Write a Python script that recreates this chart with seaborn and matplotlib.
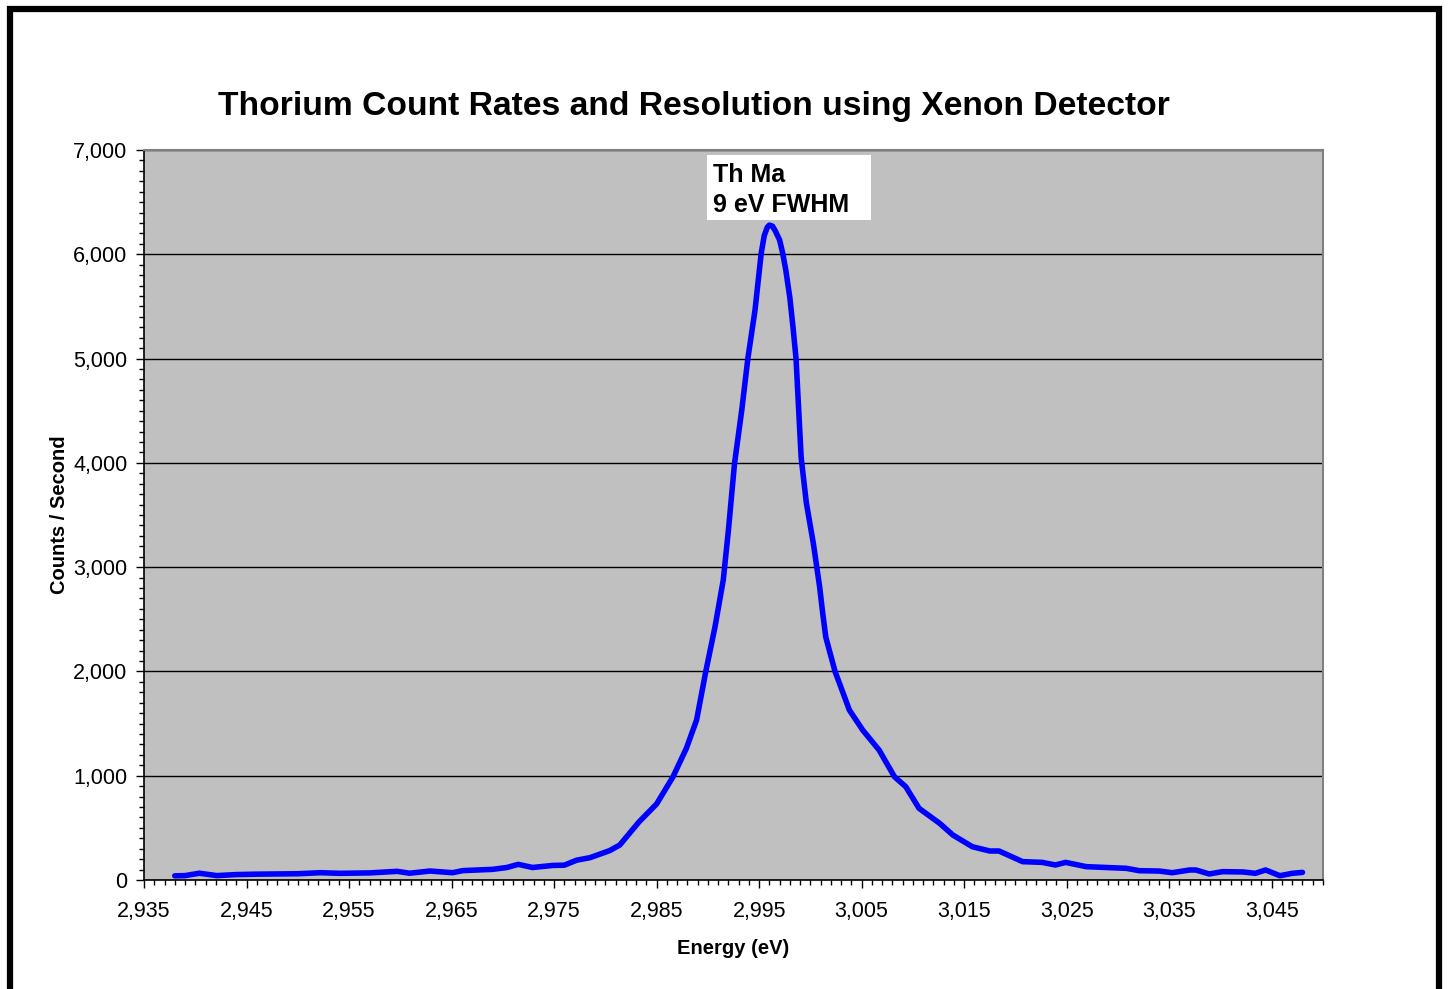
import matplotlib
matplotlib.use("Agg")
import matplotlib.pyplot as plt
from matplotlib.patches import Rectangle
from matplotlib.ticker import MultipleLocator, StrMethodFormatter
import seaborn as sb
import pandas as pd

# Values
energy = [2938, 2939, 2940.4, 2942.1, 2944, 2946, 2948, 2950, 2952.2, 2954.1,
          2957, 2959.7, 2960.9, 2962.9, 2965.1, 2966.1, 2969, 2970.4, 2971.5, 2972.9,
          2974.9, 2976, 2977.2, 2978.5, 2980.4, 2981.4, 2983.3, 2985.0, 2986.6, 2987.9,
          2988.9, 2989.8, 2990.7, 2991.5, 2992.0, 2992.6, 2993.3, 2993.9, 2994.6, 2995.2,
          2995.5, 2995.8, 2996.0, 2996.3, 2996.6, 2997.0, 2997.3, 2997.6, 2998.0, 2998.3,
          2998.6, 2999.1, 2999.6, 3000.3, 3000.9, 3001.2, 3001.5, 3002.4, 3003.2, 3003.8,
          3005.1, 3006.7, 3008.2, 3009.3, 3010.6, 3012.6, 3013.9, 3015.8, 3017.5, 3018.4,
          3020.7, 3022.6, 3023.9, 3024.9, 3026.9, 3030.8, 3032.1, 3034.0, 3035.3, 3037.0,
          3037.6, 3038.9, 3040.2, 3042.2, 3043.4, 3044.4, 3045.8, 3047.0, 3048.0]
counts = [40, 42, 65, 42, 52, 56, 58, 60, 70, 64,
          68, 83, 65, 86, 70, 90, 102, 120, 150, 120,
          140, 142, 190, 214, 281, 335, 559, 729, 990, 1262,
          1534, 2001, 2429, 2876, 3350, 3995, 4500, 5000, 5465, 6008,
          6180, 6260, 6280, 6270, 6220, 6136, 6010, 5849, 5580, 5305,
          5000, 4050, 3620, 3220, 2812, 2560, 2330, 2001, 1790, 1630,
          1438, 1246, 990, 895, 687, 544, 431, 319, 278, 278,
          176, 169, 144, 169, 128, 112, 89, 86, 70, 96,
          96, 58, 80, 77, 64, 96, 41, 64, 73]

x_ticks = list(range(2935, 3046, 10))
title = "Thorium Count Rates and Resolution using Xenon Detector"
note = "Th Ma\n9 eV FWHM"

df = pd.DataFrame({"Energy (eV)": energy, "Counts / Second": counts})

sb.set_style("ticks")
plt.rcParams['font.family'] = ['Liberation Sans', 'DejaVu Sans']
plt.rcParams['text.color'] = 'black'
plt.rcParams['axes.labelcolor'] = 'black'

fig = plt.figure(figsize=(14.49, 9.89), dpi=100)
ax = fig.add_axes([144 / 1449, 1 - 880 / 989, (1323 - 144) / 1449, (880 - 150) / 989])
ax.set_facecolor("#C0C0C0")

sb.lineplot(data=df, x="Energy (eV)", y="Counts / Second", ax=ax,
            color="#0000FF", linewidth=4.0, solid_capstyle="round",
            solid_joinstyle="round", zorder=3)

ax.set_xlim(2935, 3050)
ax.set_ylim(0, 7000)
ax.set_xticks(x_ticks)
ax.xaxis.set_minor_locator(MultipleLocator(1))
ax.yaxis.set_major_locator(MultipleLocator(1000))
ax.yaxis.set_minor_locator(MultipleLocator(100))
ax.xaxis.set_major_formatter(StrMethodFormatter("{x:,.0f}"))
ax.yaxis.set_major_formatter(StrMethodFormatter("{x:,.0f}"))
ax.tick_params(axis="both", which="major", length=6, width=1, labelsize=15.5,
               colors="black", labelcolor="black", direction="out")
ax.tick_params(axis="x", which="major", pad=9)
ax.tick_params(axis="y", which="major", pad=6)
ax.tick_params(axis="both", which="minor", length=3.5, width=1, direction="out",
               colors="black")
ax.grid(axis="y", which="major", color="black", linewidth=1)
ax.grid(axis="x", visible=False)

for side in ["left", "bottom"]:
    ax.spines[side].set_color("black")
    ax.spines[side].set_linewidth(1.2)
for side in ["top", "right"]:
    ax.spines[side].set_visible(True)
    ax.spines[side].set_color("#808080")
    ax.spines[side].set_linewidth(1.5)

ax.set_xlabel("Energy (eV)", fontsize=14.5, fontweight="bold", labelpad=12)
ax.set_ylabel("Counts / Second", fontsize=14.5, fontweight="bold", labelpad=3)
fig.text(694 / 1449, 1 - 106 / 989, title, ha="center", va="center",
         fontsize=24.2, fontweight="bold")

# annotation box for the peak
ax.add_patch(Rectangle((2989.9, 6328), 16.0, 623, facecolor="white",
                       edgecolor="none", zorder=4))
ax.text(2990.5, 6880, note, ha="left", va="top", fontsize=18,
        fontweight="bold", linespacing=1.35, zorder=5)

# thick outer frame of the chart
fig.patches.append(Rectangle((10 / 1449, -0.05), (1439 - 10) / 1449, 1.05 - 9 / 989,
                             transform=fig.transFigure, fill=False,
                             edgecolor="black", linewidth=4.5))

fig.savefig("out.png", dpi=100)
